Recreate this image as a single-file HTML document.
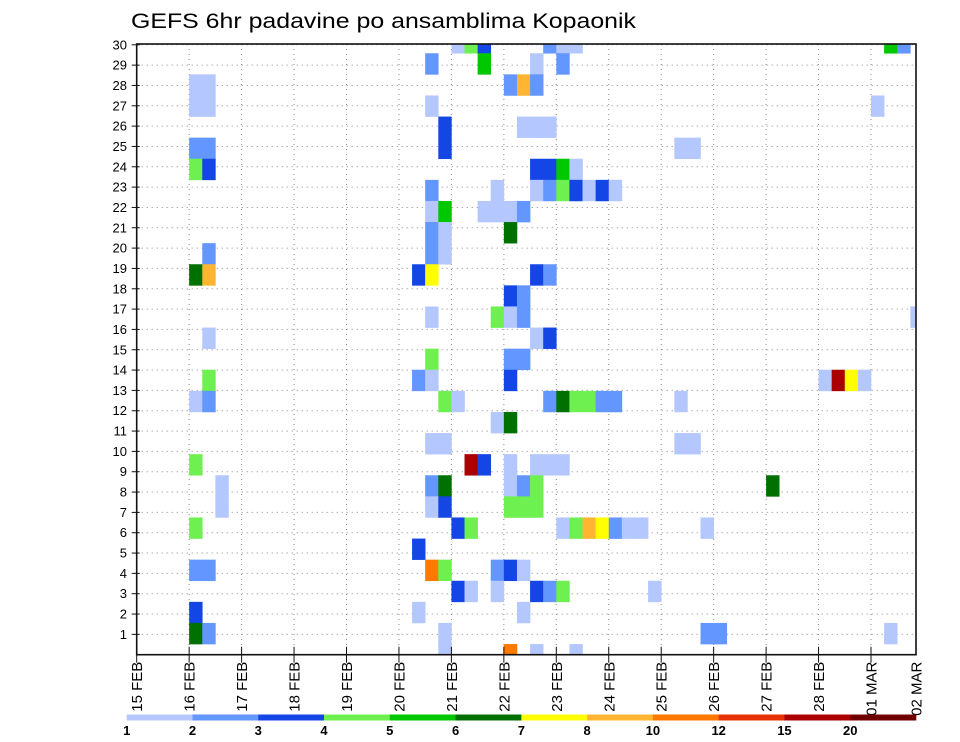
<!DOCTYPE html>
<html><head><meta charset="utf-8">
<style>
html,body{margin:0;padding:0;background:#fff;}
svg{display:block;font-family:"Liberation Sans",sans-serif;}
</style></head>
<body>
<svg id="chart" width="960" height="742" viewBox="0 0 960 742" xmlns="http://www.w3.org/2000/svg">
<defs><clipPath id="plotclip"><rect x="136.7" y="44" width="779.3" height="610.7"/></clipPath></defs>
<text x="131" y="28" font-size="21" textLength="505" lengthAdjust="spacingAndGlyphs" fill="#000">GEFS 6hr padavine po ansamblima Kopaonik</text>
<g id="grid"></g>
<g id="cells" clip-path="url(#plotclip)"></g>
<rect x="136.7" y="44" width="779.3" height="610.7" fill="none" stroke="#111" stroke-width="1.6"/>
<g id="axes"></g>
<g id="legend"></g>
</svg>
<script>
// ---- data ----
const dayLabels = ["15 FEB","16 FEB","17 FEB","18 FEB","19 FEB","20 FEB","21 FEB","22 FEB","23 FEB","24 FEB","25 FEB","26 FEB","27 FEB","28 FEB","01 MAR","02 MAR"];
const yTicks = [1,2,3,4,5,6,7,8,9,10,11,12,13,14,15,16,17,18,19,20,21,22,23,24,25,26,27,28,29,30];
const levelLabels = ["1","2","3","4","5","6","7","8","10","12","15","20"];
const levelColors = ["#b4c8ff","#6496ff","#1446e6","#6ef050","#00c800","#007000","#ffff00","#ffb432","#ff7800","#e63200","#aa0000","#700000"];
// 6-hour slot index (from 15 FEB 00z), ensemble member row, colour level index
const cellSlot   = [24,25,26,31,32,33,57,58, 22,26,30,32, 4,5,28,29,30, 4,5,22,56, 23,29,30,31, 4,5,23,41,42, 4,5,30,31,32,33, 22,27,30,31,32,33,34,35,36, 22,23,26,27,28,29, 22,23,28, 5,22,23, 4,5,21,22,30,31, 28,29, 22,27,28,29,59, 5,30,31, 22,28,29, 5,21,22,28,52,53,54,55, 4,5,23,24,31,32,33,34,35,36,41, 27,28, 22,23,41,42, 4,25,26,28,30,31,32, 6,22,23,28,29,30,48, 6,22,23,28,29,30, 4,24,25,32,33,34,35,36,37,38,43, 21, 4,5,22,23,27,28,29, 24,25,27,30,31,32,39, 4,21,29, 4,5,23,43,44,57, 23,28,30,33];
const cellMember = [29,29,29,29,29,29,29,29, 28,28,28,28, 27,27,27,27,27, 26,26,26,26, 25,25,25,25, 24,24,24,24,24, 23,23,23,23,23,23, 22,22,22,22,22,22,22,22,22, 21,21,21,21,21,21, 20,20,20, 19,19,19, 18,18,18,18,18,18, 17,17, 16,16,16,16,16, 15,15,15, 14,14,14, 13,13,13,13,13,13,13,13, 12,12,12,12,12,12,12,12,12,12,12, 11,11, 10,10,10,10, 9,9,9,9,9,9,9, 8,8,8,8,8,8,8, 7,7,7,7,7,7, 6,6,6,6,6,6,6,6,6,6,6, 5, 4,4,4,4,4,4,4, 3,3,3,3,3,3,3, 2,2,2, 1,1,1,1,1,1, 0,0,0,0];
const cellLevel  = [0,3,2,1,0,0,4,1, 1,4,0,1, 0,0,1,7,1, 0,0,0,0, 2,0,0,0, 1,1,2,0,0, 3,2,2,2,4,0, 1,0,0,1,3,2,0,2,0, 0,4,0,0,0,1, 1,0,5, 1,1,0, 5,7,2,6,2,1, 2,1, 0,3,0,1,0, 0,0,2, 3,1,1, 3,1,0,2,0,10,6,0, 0,1,3,0,1,5,3,3,1,1,0, 0,5, 0,0,0,0, 3,10,2,0,0,0,0, 0,1,5,0,1,3,5, 0,0,2,3,3,3, 3,2,3,0,3,7,6,1,0,0,0, 2, 1,1,8,3,1,2,0, 2,0,0,2,1,3,0, 2,0,0, 5,1,0,1,1,0, 0,8,0,0];

// ---- scales ----
const X0 = 136.7, DAY = 52.45, XR = 916, YT = 44, YB = 654.7;
const SLOT = DAY / 4, ROWH = 21.1;
function xDay(d){ return X0 + d * DAY; }
function xSlot(i){ return X0 + i * SLOT; }
function yVal(v){ return YB - v * 20.33; }
function yMemberTop(m){ return 644.05 - m * ROWH; }

const NS = "http://www.w3.org/2000/svg";
function mk(tag, attrs, parent){ const e = document.createElementNS(NS, tag); for (const k in attrs) e.setAttribute(k, attrs[k]); parent.appendChild(e); return e; }

// grid
const grid = document.getElementById('grid');
for (let d = 1; d < dayLabels.length - 1; d++) {
  const l = mk('line', {x1: xDay(d), x2: xDay(d), y1: YT, y2: YB, stroke: '#888', 'stroke-width': 1, 'stroke-dasharray': '1 4'}, grid);
  
  
}
yTicks.forEach(v => {
  const l = mk('line', {x1: X0, x2: XR, y1: yVal(v), y2: yVal(v), stroke: '#888', 'stroke-width': 1, 'stroke-dasharray': '1 4'}, grid);
  
  
});

// cells
const cg = document.getElementById('cells');
for (let k = 0; k < cellSlot.length; k++) {
  const r = mk('rect', {x: xSlot(cellSlot[k]), y: yMemberTop(cellMember[k]), width: SLOT + 0.3, height: ROWH + 0.3, fill: levelColors[cellLevel[k]]}, cg);
  
  
}

// axes
const ax = document.getElementById('axes');
yTicks.forEach(v => {
  const t = mk('line', {x1: X0 - 5, x2: X0 + 3, y1: yVal(v), y2: yVal(v), stroke: '#111', 'stroke-width': 1}, ax);
  
  
  const tx = mk('text', {x: 127, y: yVal(v) + 4.5, 'font-size': 13, 'text-anchor': 'end', fill: '#000'}, ax);
  tx.textContent = v;
  
  
});
dayLabels.forEach((lab, d) => {
  let x = xDay(d);
  if (x > XR) x = XR;
  if (d < dayLabels.length - 1) {
    const t = mk('line', {x1: x, x2: x, y1: YB - 8, y2: YB + 8, stroke: '#111', 'stroke-width': 1}, ax);
    
    
  }
  const tx = mk('text', {x: 0, y: 0, 'font-size': 15, 'text-anchor': 'end', transform: `translate(${x + 5.5},${YB + 7}) rotate(-90)`, fill: '#000'}, ax);
  tx.textContent = lab;
  
  
});

// legend
const lg = document.getElementById('legend');
const LX0 = 126.7, LW = (916 - 126.7) / levelColors.length;
levelColors.forEach((c, k) => {
  const r = mk('rect', {x: LX0 + k * LW, y: 714.5, width: LW + 0.3, height: 6, fill: c}, lg);
  
  
});
levelLabels.forEach((lab, k) => {
  const t = mk('text', {x: LX0 + k * LW, y: 735, 'font-size': 13, 'font-weight': 'bold', 'text-anchor': 'middle', fill: '#000'}, lg);
  t.textContent = lab;
  
  
});
</script>
</body></html>
